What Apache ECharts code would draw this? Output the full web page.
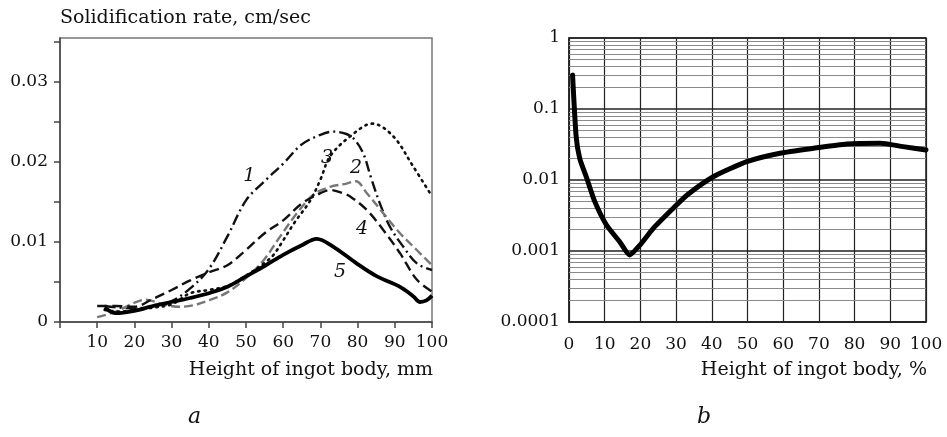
<!DOCTYPE html>
<html><head><meta charset="utf-8">
<script src="https://cdn.jsdelivr.net/npm/echarts@6/dist/echarts.min.js"></script>
<style>html,body{margin:0;padding:0;background:#fff}#c{width:947px;height:437px}</style>
</head><body><div id="c"></div>
<script>
// ---- Data (panel a) ----
const c1x = [12, 16, 20, 25, 30, 35, 40, 45, 50, 55, 60, 65, 70, 73.5, 77, 79, 81.5, 83.5, 86, 88.7, 92.3, 96, 100];
const c1y = [0.002, 0.0018, 0.0017, 0.002, 0.0026, 0.0042, 0.0066, 0.0107, 0.0152, 0.0176, 0.0198, 0.0222, 0.0234, 0.0238, 0.0235, 0.0229, 0.0211, 0.0182, 0.0148, 0.0119, 0.0094, 0.0073, 0.0065];
const c2x = [10, 15, 20, 23, 27, 32, 36, 40, 45, 50, 54.7, 59.2, 63.7, 68.1, 72.6, 77, 79.5, 82.5, 86.9, 91.4, 95.9, 100];
const c2y = [0.0006, 0.0013, 0.0024, 0.0028, 0.0023, 0.0019, 0.0021, 0.0027, 0.0037, 0.0055, 0.0077, 0.0107, 0.0136, 0.0159, 0.0169, 0.0173, 0.0176, 0.0161, 0.0136, 0.0111, 0.009, 0.0071];
const c3x = [12, 16, 20, 25, 30, 35, 40, 45, 50, 55, 57.4, 60, 63, 67.3, 70, 72.6, 78, 84, 89.6, 95, 100];
const c3y = [0.0015, 0.0013, 0.0015, 0.0018, 0.0022, 0.0036, 0.004, 0.0045, 0.0058, 0.0074, 0.0084, 0.0102, 0.0124, 0.0152, 0.0178, 0.0207, 0.0232, 0.0248, 0.0232, 0.0194, 0.0157];
const c4x = [10, 15, 20, 25, 30, 35, 40, 45, 50, 55, 60, 65, 70, 72.6, 76, 78, 82.5, 86.9, 91.4, 95.9, 100];
const c4y = [0.002, 0.002, 0.0019, 0.0029, 0.004, 0.0052, 0.0062, 0.0071, 0.009, 0.0111, 0.0127, 0.0148, 0.0161, 0.0165, 0.0161, 0.0157, 0.014, 0.0115, 0.0086, 0.0053, 0.0038];
const c5x = [12, 15, 20, 25, 30, 35, 40, 45, 50, 55, 60, 65, 69, 73.5, 79.8, 85.2, 91.4, 95, 96.8, 98.5, 100];
const c5y = [0.0018, 0.0011, 0.0014, 0.002, 0.0025, 0.003, 0.0036, 0.0044, 0.0057, 0.007, 0.0084, 0.0096, 0.0104, 0.0094, 0.0073, 0.0057, 0.0044, 0.0032, 0.0025, 0.0027, 0.0033];
const curveNames = ['1', '2', '3', '4', '5'];
const curveLabelX = [50.9, 79.6, 71.8, 81.2, 75.3];
const curveLabelY = [0.0182, 0.0193, 0.0205, 0.0116, 0.0063];
const aYTickLabels = ['0', '0.01', '0.02', '0.03'];
const aYTickValues = [0, 0.01, 0.02, 0.03];
// ---- Data (panel b) ----
const bx = [1, 2, 3, 5, 7.2, 10.5, 14.2, 17, 19.8, 23.6, 29.2, 33, 40.4, 49.8, 59.1, 68.5, 77.8, 87.2, 93.6, 100];
const by = [0.3, 0.041, 0.0202, 0.0105, 0.005, 0.00232, 0.00135, 0.00088, 0.0012, 0.00208, 0.004, 0.0061, 0.0111, 0.0181, 0.0238, 0.028, 0.0322, 0.033, 0.0295, 0.0265];
const bYTickValues = [0.0001, 0.001, 0.01, 0.1, 1];
const bYTickLabels = ['0.0001', '0.001', '0.01', '0.1', '1'];
const bMinorMultipliers = [2, 3, 4, 5, 6, 7, 8, 9];
const bDecades = [0.0001, 0.001, 0.01, 0.1];

const FONT = '"DejaVu Serif", "Liberation Serif", serif';
const FS = 17;
const zip = (xs, ys) => xs.map((x, i) => [x, ys[i]]);

const chart = echarts.init(document.getElementById('c'), null, {renderer: 'canvas'});

const styles = [
  {color: '#111', width: 2.4, type: [11, 4, 2, 4]},
  {color: '#777', width: 2.4, type: [9, 4]},
  {color: '#111', width: 2.6, type: [1.5, 5], cap: 'round'},
  {color: '#111', width: 2.4, type: [10, 5]},
  {color: '#000', width: 3.8, type: 'solid'}
];
const aData = [zip(c1x, c1y), zip(c2x, c2y), zip(c3x, c3y), zip(c4x, c4y), zip(c5x, c5y)];

const aSeries = aData.map((d, i) => ({
  type: 'line', xAxisIndex: 0, yAxisIndex: 0, data: d, smooth: 0.35,
  showSymbol: false, symbol: 'none', silent: true, animation: false,
  lineStyle: styles[i], z: i === 4 ? 5 : 3,
  markPoint: {
    symbol: 'circle', symbolSize: 0, silent: true, animation: false,
    label: {show: true, position: 'inside', formatter: curveNames[i], fontFamily: FONT,
      fontStyle: 'italic', fontSize: 19, color: '#111'},
    data: [{coord: [curveLabelX[i], curveLabelY[i]]}]
  }
}));

const minorLines = [];
bDecades.forEach(d => bMinorMultipliers.forEach(m => {
  const v = +(d * m).toPrecision(3);
  minorLines.push({coords: [[0, v], [100, v]]});
}));

const bSeries = [{
  type: 'lines', coordinateSystem: 'cartesian2d', xAxisIndex: 1, yAxisIndex: 1,
  silent: true, animation: false, z: 1, symbol: ['none', 'none'],
  lineStyle: {color: '#8a8a8a', width: 1, opacity: 1, curveness: 0},
  data: minorLines
}, {
  type: 'line', xAxisIndex: 1, yAxisIndex: 1, data: zip(bx, by), smooth: 0.2,
  showSymbol: false, symbol: 'none', silent: true, animation: false, z: 5,
  lineStyle: {color: '#000', width: 5, cap: 'round', join: 'round'}
}];

const option = {
  animation: false,
  grid: [
    {left: 60, top: 38, width: 372, height: 284, show: true, borderColor: '#777', borderWidth: 1.5, backgroundColor: 'transparent'},
    {left: 569, top: 38, width: 357, height: 284, show: true, borderColor: '#222', borderWidth: 1.5, backgroundColor: 'transparent'}
  ],
  xAxis: [
    {gridIndex: 0, type: 'value', min: 0, max: 100, interval: 10,
      axisLine: {show: true, onZero: false, lineStyle: {color: '#444', width: 1.5}},
      axisTick: {show: true, length: 6, lineStyle: {color: '#444', width: 1.5}},
      axisLabel: {fontFamily: FONT, fontSize: FS, color: '#111', margin: 12,
        formatter: v => (v === 0 ? '' : String(v))},
      splitLine: {show: false}},
    {gridIndex: 1, type: 'value', min: 0, max: 100, interval: 10,
      axisLine: {show: true, onZero: false, lineStyle: {color: '#222', width: 1.5}},
      axisTick: {show: false},
      axisLabel: {fontFamily: FONT, fontSize: FS, color: '#111', margin: 14},
      splitLine: {show: true, lineStyle: {color: '#222', width: 1.2}}}
  ],
  yAxis: [
    {gridIndex: 0, type: 'value', min: 0, max: 0.0355, interval: 0.005,
      axisLine: {show: true, lineStyle: {color: '#444', width: 1.5}},
      axisTick: {show: true, length: 6, lineStyle: {color: '#444', width: 1.5}},
      axisLabel: {fontFamily: FONT, fontSize: FS, color: '#111', margin: 12, showMaxLabel: false,
        formatter: v => { const k = aYTickValues.findIndex(t => Math.abs(t - v) < 1e-9); return k >= 0 ? aYTickLabels[k] : ''; }},
      splitLine: {show: false}},
    {gridIndex: 1, type: 'log', logBase: 10, min: 0.0001, max: 1,
      axisLine: {show: true, lineStyle: {color: '#222', width: 1.5}},
      axisTick: {show: false},
      axisLabel: {fontFamily: FONT, fontSize: FS, color: '#111', margin: 9,
        formatter: v => { const k = bYTickValues.findIndex(t => Math.abs(Math.log10(t) - Math.log10(v)) < 1e-6); return k >= 0 ? bYTickLabels[k] : ''; }},
      splitLine: {show: true, lineStyle: {color: '#222', width: 1.5}}}
  ],
  graphic: [
    {type: 'text', left: 60, top: 9, style: {text: 'Solidification rate, cm/sec', fontFamily: FONT, fontSize: 19, fill: '#111'}},
    {type: 'text', right: 947 - 433, top: 361, style: {text: 'Height of ingot body, mm', fontFamily: FONT, fontSize: 19, fill: '#111'}},
    {type: 'text', right: 947 - 927, top: 361, style: {text: 'Height of ingot body, %', fontFamily: FONT, fontSize: 19, fill: '#111'}},
    {type: 'text', left: 188, top: 406, style: {text: 'a', fontFamily: FONT, fontSize: 22, fontStyle: 'italic', fill: '#111'}},
    {type: 'text', left: 697, top: 406, style: {text: 'b', fontFamily: FONT, fontSize: 22, fontStyle: 'italic', fill: '#111'}}
  ],
  series: aSeries.concat(bSeries)
};
chart.setOption(option);
</script></body></html>
